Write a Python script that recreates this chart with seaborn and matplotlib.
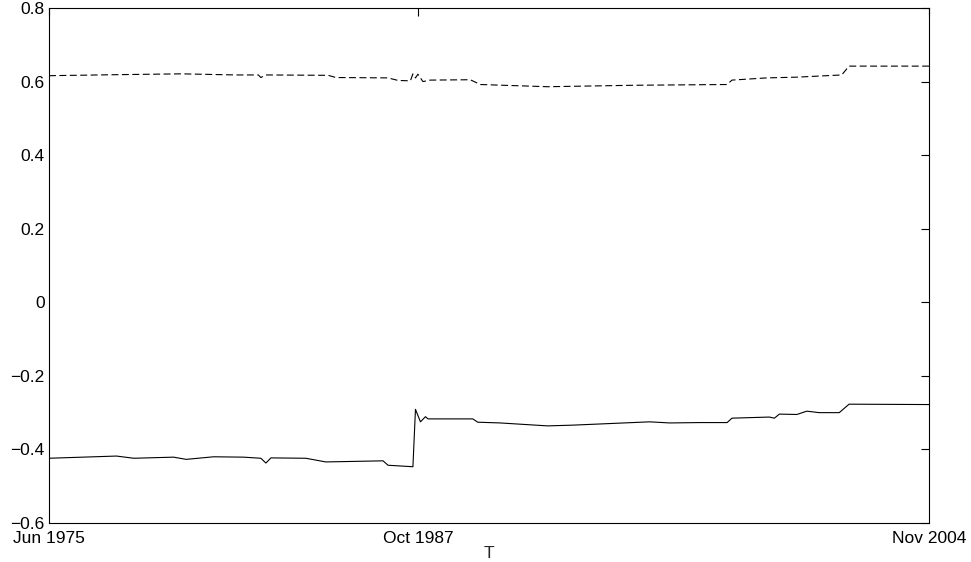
import numpy as np
import pandas as pd
import matplotlib
matplotlib.use("Agg")
import matplotlib.pyplot as plt
import seaborn as sns

# months since Jun 1975 (monthly series, Jun 1975 .. Nov 2004)
start_month = "1975-06-01"
n_months = 354

# lower series (solid), vertices
solid_month = [0, 27, 34, 50, 55, 66, 78, 85, 87, 89, 103, 111, 134, 136, 146,
               147, 149, 151, 152, 170, 172, 181, 200, 210, 241, 249, 261, 272,
               274, 289, 291, 293, 300, 304, 309, 317, 321, 353]
solid_value = [-0.424, -0.418, -0.424, -0.421, -0.427, -0.420, -0.421, -0.424,
               -0.437, -0.423, -0.424, -0.434, -0.431, -0.443, -0.447, -0.291,
               -0.325, -0.311, -0.317, -0.317, -0.326, -0.328, -0.336, -0.334,
               -0.325, -0.328, -0.327, -0.327, -0.315, -0.312, -0.315, -0.304,
               -0.305, -0.296, -0.300, -0.300, -0.277, -0.278]

# upper series (dashed)
dashed_month = [0, 30, 53, 75, 84, 85, 87, 112, 115, 136, 140, 145, 146, 147,
                148, 150, 153, 169, 173, 200, 235, 272, 274, 288, 300, 318, 321, 353]
dashed_value = [0.616, 0.619, 0.621, 0.618, 0.618, 0.611, 0.618, 0.617, 0.611,
                0.610, 0.603, 0.602, 0.621, 0.610, 0.620, 0.600, 0.604, 0.605,
                0.592, 0.586, 0.590, 0.592, 0.604, 0.610, 0.612, 0.618, 0.642, 0.642]

tick_dates = ["1975-06-01", "1987-10-01", "2004-11-01"]
tick_labels = ["Jun 1975", "Oct 1987", "Nov 2004"]
y_ticks = [-0.6, -0.4, -0.2, 0, 0.2, 0.4, 0.6, 0.8]

months = pd.date_range(start_month, periods=n_months, freq="MS")
df_solid = pd.DataFrame({"T": months[solid_month], "v": solid_value})
df_dashed = pd.DataFrame({"T": months[dashed_month], "v": dashed_value})

sns.set_style("white")
plt.rcParams["font.family"] = ["Liberation Sans", "DejaVu Sans"]
plt.rcParams["lines.scale_dashes"] = False

fig = plt.figure(figsize=(9.71, 5.62), dpi=100)
ax = fig.add_axes([49 / 971, 39 / 562, 880 / 971, 515 / 562])

sns.lineplot(data=df_solid, x="T", y="v", ax=ax, color="black", linewidth=0.8)
sns.lineplot(data=df_dashed, x="T", y="v", ax=ax, color="black", linewidth=0.8,
             linestyle=(0, (5, 2.5)))

ax.set_xlim(months[0], months[-1])
ax.set_ylim(-0.6, 0.8)
ax.set_xticks(pd.to_datetime(tick_dates))
ax.set_xticklabels(tick_labels)
ax.set_yticks(y_ticks)
ax.set_yticklabels([f"{t:g}".replace("-", "\u2212") for t in y_ticks])
ax.set_xlabel("T", fontsize=12.5, labelpad=0)
ax.set_ylabel("")

ax.tick_params(direction="in", length=6, width=0.8, top=True, right=True,
               labelsize=12.5, colors="black")
ax.tick_params(axis="y", pad=3)
ax.tick_params(axis="x", pad=5.5)
for s in ax.spines.values():
    s.set_color("black")
    s.set_linewidth(0.8)

fig.savefig("out.png", dpi=100)
